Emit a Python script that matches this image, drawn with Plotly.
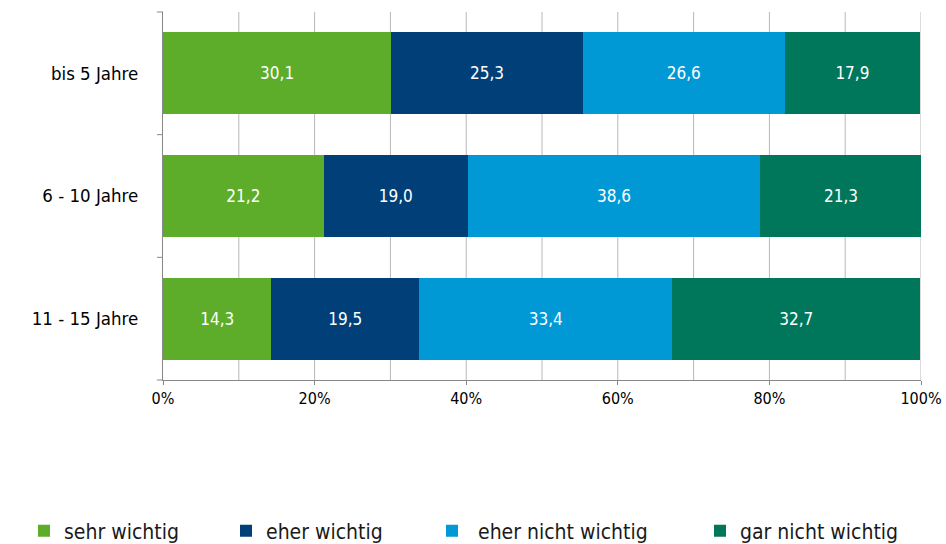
import plotly.graph_objects as go

categories = ["bis 5 Jahre", "6 - 10 Jahre", "11 - 15 Jahre"]
series_names = ["sehr wichtig", "eher wichtig", " eher nicht wichtig", "gar nicht wichtig"]
sehr = [30.1, 21.2, 14.3]
eher = [25.3, 19.0, 19.5]
eher_nicht = [26.6, 38.6, 33.4]
gar_nicht = [17.9, 21.3, 32.7]
colors = ["#5DAD2A", "#003F78", "#0099D6", "#00775A"]
tick_vals = [0, 20, 40, 60, 80, 100]
tick_text = ["0%", "20%", "40%", "60%", "80%", "100%"]

FONT = "DejaVu Sans Condensed, DejaVu Sans, sans-serif"
fig = go.Figure()
legend_names = ["legend", "legend2", "legend3", "legend4"]
for i, (name, vals) in enumerate(zip(series_names, [sehr, eher, eher_nicht, gar_nicht])):
    fig.add_trace(go.Bar(
        y=categories, x=vals, name=name, orientation="h",
        marker=dict(color=colors[i], line=dict(width=0)),
        text=[f"{v:.1f}".replace(".", ",") for v in vals],
        textposition="inside", insidetextanchor="middle",
        textfont=dict(color="white", size=17, family=FONT),
        width=0.67, legend=legend_names[i],
    ))

leg_x = [24, 226, 432, 700]
layout_legends = {}
for i, ln in enumerate(legend_names):
    layout_legends[ln] = dict(
        x=leg_x[i] / 946, xref="container", y=1 - 531 / 544, yref="container",
        xanchor="left", yanchor="middle", orientation="h",
        font=dict(size=21, family=FONT, color="#1a1a1a"),
        bgcolor="rgba(0,0,0,0)", itemwidth=30, tracegroupgap=0,
    )

fig.update_layout(
    barmode="stack",
    width=946, height=544,
    margin=dict(l=163, r=25, t=12, b=164, autoexpand=False),
    paper_bgcolor="white", plot_bgcolor="white",
    showlegend=True,
    bargap=0.33,
    xaxis=dict(range=[0, 100], tickvals=tick_vals, ticktext=tick_text,
               showgrid=False, zeroline=False,
               showline=True, linecolor="#888", linewidth=1,
               ticks="outside", ticklen=4, tickcolor="#888",
               tickfont=dict(size=16, family=FONT, color="#000")),
    yaxis=dict(autorange="reversed", showgrid=False, zeroline=False,
               showline=True, linecolor="#888", linewidth=1,
               ticks="", ticklabelstandoff=20,
               tickfont=dict(size=18.5, family=FONT, color="#000")),
    **layout_legends,
)

# vertical gridlines every 10%
for gx in range(10, 101, 10):
    fig.add_shape(type="line", xref="x", yref="paper", x0=gx, x1=gx, y0=0, y1=1,
                  line=dict(color="#B8B8B8", width=1), layer="below")
# category boundary ticks on y axis
for k in range(4):
    fig.add_shape(type="line", xref="paper", yref="paper", x0=-0.008, x1=0,
                  y0=k / 3, y1=k / 3, line=dict(color="#888", width=1))

fig.write_html("out.html", config={"displayModeBar": False},
               post_script="document.body.style.margin='0';")
